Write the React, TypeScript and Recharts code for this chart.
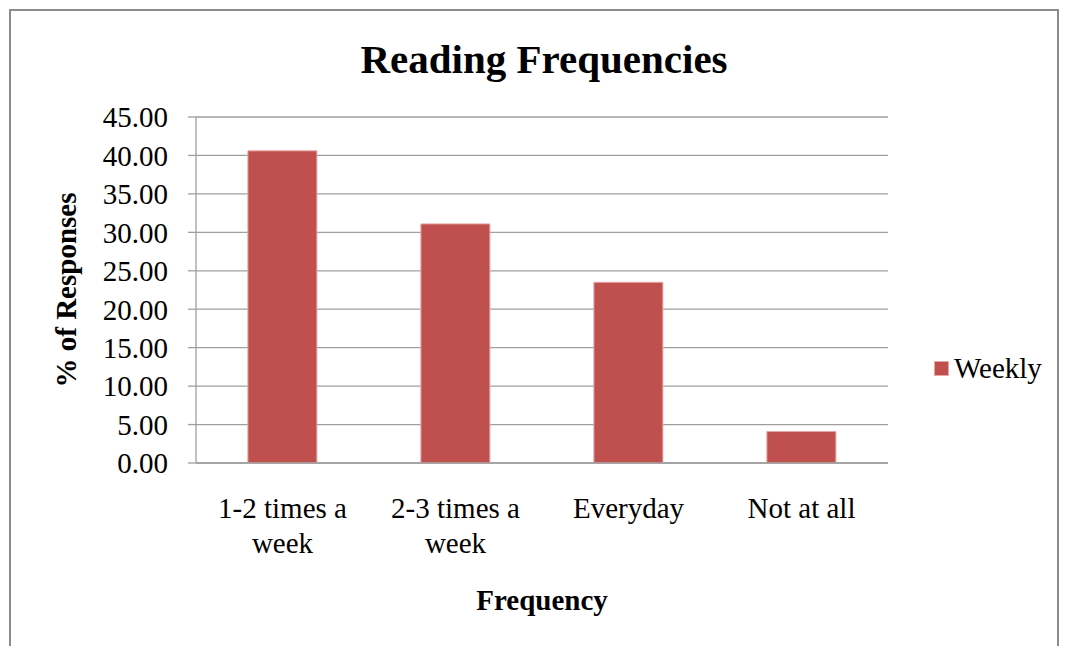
import React from 'react';
import { BarChart, Bar, XAxis, YAxis, CartesianGrid, Legend, Label } from 'recharts';

const categories = ['1-2 times a week', '2-3 times a week', 'Everyday', 'Not at all'];
const weekly = [40.6, 31.1, 23.5, 4.1];
const yTicks = [0, 5, 10, 15, 20, 25, 30, 35, 40, 45];

// split long category names the way the original wraps them
const tickLines: Record<string, string[]> = {
  '1-2 times a week': ['1-2 times a', 'week'],
  '2-3 times a week': ['2-3 times a', 'week'],
  Everyday: ['Everyday'],
  'Not at all': ['Not at all'],
};

const data = categories.map((name, i) => ({ name, Weekly: weekly[i] }));

const SERIF = '"Liberation Serif", "Times New Roman", serif';
const BAR = '#C0504D';
const GRID = '#9f9f9f';

const CategoryTick = (props: any) => {
  const { x, y, payload } = props;
  const lines = tickLines[payload.value] || [payload.value];
  return (
    <g>
      {lines.map((line, i) => (
        <text
          key={i}
          x={x}
          y={y + 47 + i * 35}
          textAnchor="middle"
          fontFamily={SERIF}
          fontSize={29}
          fill="#000"
        >
          {line}
        </text>
      ))}
    </g>
  );
};

const LegendBox = () => (
  <div style={{ display: 'flex', alignItems: 'center', fontFamily: SERIF, fontSize: 29, color: '#000' }}>
    <span style={{ width: 13, height: 13, background: BAR, border: '1px solid #e8a7a6', marginRight: 5 }} />
    <span>Weekly</span>
  </div>
);

export default function App() {
  return (
    <div style={{ position: 'absolute', left: 0, top: 0, width: 1066, height: 646, overflow: 'hidden', background: '#fff' }}>
      <div
        style={{
          position: 'absolute',
          left: 9,
          top: 9,
          width: 1050,
          height: 700,
          border: '2px solid #8c8c8c',
          boxSizing: 'border-box',
        }}
      />
      <div
        style={{
          position: 'absolute',
          left: 0,
          top: 36,
          width: 1088,
          textAlign: 'center',
          fontFamily: SERIF,
          fontWeight: 'bold',
          fontSize: 41,
          lineHeight: '46px',
        }}
      >
        Reading Frequencies
      </div>
      <div style={{ position: 'absolute', left: 0, top: 0 }}>
        <BarChart
          width={1066}
          height={646}
          data={data}
          margin={{ top: 117, right: 178, bottom: 0, left: 0 }}
          barCategoryGap="30%"
        >
          <CartesianGrid vertical={false} stroke={GRID} strokeWidth={1.3} />
          <XAxis
            dataKey="name"
            height={183}
            tickLine={false}
            axisLine={{ stroke: GRID, strokeWidth: 1.3 }}
            tick={<CategoryTick />}
            interval={0}
          >
            <Label
              content={({ viewBox }: any) => (
                <text
                  x={viewBox.x + viewBox.width / 2}
                  y={viewBox.y + 147}
                  textAnchor="middle"
                  fontFamily={SERIF}
                  fontWeight="bold"
                  fontSize={29}
                  fill="#000"
                >
                  Frequency
                </text>
              )}
            />
          </XAxis>
          <YAxis
            width={196}
            domain={[0, 45]}
            ticks={yTicks}
            interval={0}
            tickFormatter={(v: number) => v.toFixed(2)}
            tickSize={8}
            tickMargin={20}
            tickLine={{ stroke: GRID, strokeWidth: 1.3 }}
            axisLine={{ stroke: GRID, strokeWidth: 1.3 }}
            tick={{ fontFamily: SERIF, fontSize: 29, fill: '#000' }}
          >
            <Label
              content={({ viewBox }: any) => {
                const cx = viewBox.x + 66;
                const cy = viewBox.y + viewBox.height / 2;
                return (
                  <text
                    x={cx}
                    y={cy}
                    transform={`rotate(-90 ${cx} ${cy})`}
                    textAnchor="middle"
                    dominantBaseline="central"
                    fontFamily={SERIF}
                    fontWeight="bold"
                    fontSize={29}
                    fill="#000"
                  >
                    % of Responses
                  </text>
                );
              }}
            />
          </YAxis>
          <Legend
            layout="vertical"
            align="center"
            verticalAlign="middle"
            content={<LegendBox />}
            wrapperStyle={{ left: 934, top: 352, width: 'auto' }}
          />
          <Bar dataKey="Weekly" fill={BAR} stroke="#e8a7a6" strokeWidth={1} isAnimationActive={false} />
        </BarChart>
      </div>
    </div>
  );
}
